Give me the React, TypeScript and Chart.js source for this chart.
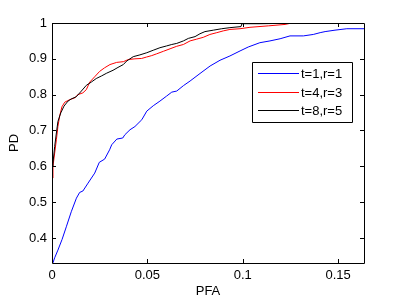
import React, { useEffect, useRef } from "react";
import { Chart, registerables } from "chart.js";

Chart.register(...registerables);

// ---- Data ----
const seriesLabels = ["t=1,r=1", "t=4,r=3", "t=8,r=5"];
const seriesColors = ["#0000ff", "#ff0000", "#000000"];

const blueX = [0, 0.0005, 0.0014, 0.0031, 0.0053, 0.0075, 0.0101, 0.0128, 0.0145, 0.0162, 0.0189, 0.0224, 0.0248, 0.0276, 0.0302, 0.0313, 0.034, 0.0371, 0.0382, 0.0409, 0.0435, 0.0471, 0.0497, 0.0531, 0.0566, 0.0601, 0.0628, 0.0654, 0.0689, 0.0724, 0.0776, 0.0829, 0.0881, 0.0933, 0.0986, 0.1029, 0.109, 0.1143, 0.1196, 0.1248, 0.1318, 0.137, 0.1406, 0.1432, 0.1484, 0.1546, 0.1636];
const blueY = [0.33, 0.3305, 0.3445, 0.366, 0.396, 0.431, 0.473, 0.511, 0.527, 0.531, 0.553, 0.581, 0.611, 0.62, 0.646, 0.66, 0.676, 0.679, 0.688, 0.702, 0.711, 0.73, 0.754, 0.769, 0.782, 0.796, 0.807, 0.81, 0.825, 0.838, 0.859, 0.88, 0.896, 0.908, 0.922, 0.933, 0.945, 0.95, 0.956, 0.964, 0.964, 0.968, 0.973, 0.976, 0.98, 0.984, 0.984];

const redX = [0, 0.0005, 0.0014, 0.0023, 0.0031, 0.004, 0.0052, 0.0067, 0.0093, 0.0119, 0.0136, 0.0162, 0.018, 0.0198, 0.0224, 0.025, 0.0276, 0.0304, 0.0339, 0.0374, 0.04, 0.0435, 0.047, 0.0496, 0.0523, 0.0549, 0.0584, 0.0619, 0.0654, 0.0689, 0.0724, 0.0759, 0.0793, 0.0828, 0.0864, 0.0898, 0.0933, 0.0986, 0.1038, 0.1134, 0.1222, 0.1257];
const redY = [0.567, 0.6, 0.637, 0.674, 0.711, 0.74, 0.766, 0.779, 0.786, 0.791, 0.8, 0.805, 0.814, 0.835, 0.85, 0.865, 0.875, 0.884, 0.89, 0.892, 0.898, 0.9, 0.901, 0.905, 0.909, 0.914, 0.921, 0.928, 0.935, 0.94, 0.95, 0.955, 0.96, 0.968, 0.973, 0.978, 0.982, 0.984, 0.988, 0.992, 0.996, 1.0];

const blackX = [0, 0.0005, 0.0014, 0.0023, 0.0031, 0.0046, 0.0063, 0.0084, 0.0101, 0.0127, 0.0154, 0.018, 0.0206, 0.0232, 0.0259, 0.0287, 0.032, 0.0346, 0.0374, 0.0392, 0.0426, 0.0461, 0.0497, 0.0531, 0.0566, 0.0601, 0.0628, 0.0654, 0.0689, 0.0715, 0.075, 0.0776, 0.0802, 0.0846, 0.089, 0.0933, 0.0991, 0.0996, 0.109, 0.1222, 0.1248];
const blackY = [0.6, 0.609, 0.655, 0.693, 0.725, 0.749, 0.768, 0.782, 0.788, 0.794, 0.81, 0.826, 0.835, 0.845, 0.852, 0.86, 0.868, 0.876, 0.884, 0.894, 0.906, 0.911, 0.917, 0.924, 0.931, 0.936, 0.94, 0.943, 0.95, 0.957, 0.962, 0.97, 0.976, 0.98, 0.984, 0.987, 0.99, 0.998, 0.998, 0.999, 1.0];

const xTicks = [0, 0.05, 0.1, 0.15];
const yTicks = [0.4, 0.5, 0.6, 0.7, 0.8, 0.9, 1];
const xMin = 0;
const xMax = 0.1636;
const yMin = 0.33;
const yMax = 1;
const xTitle = "PFA";
const yTitle = "PD";

const FONT = { family: "'Liberation Sans', Arial, sans-serif", size: 13 };
const fmt = (v: number) => String(+Number(v).toFixed(3));

const matlabPlugin = {
  id: "matlabBox",
  afterDatasetsDraw(chart: any) {
    const { ctx, chartArea: a, scales } = chart;
    ctx.save();
    ctx.strokeStyle = "#000";
    ctx.lineWidth = 1;
    ctx.beginPath();
    ctx.rect(a.left + 0.5, a.top + 0.5, a.right - a.left, a.bottom - a.top);
    const tl = 4;
    xTicks.forEach((v) => {
      const px = Math.round(scales.x.getPixelForValue(v)) + 0.5;
      ctx.moveTo(px, a.bottom);
      ctx.lineTo(px, a.bottom - tl);
      ctx.moveTo(px, a.top);
      ctx.lineTo(px, a.top + tl);
    });
    yTicks.forEach((v) => {
      const py = Math.round(scales.y.getPixelForValue(v)) + 0.5;
      ctx.moveTo(a.left, py);
      ctx.lineTo(a.left + tl, py);
      ctx.moveTo(a.right, py);
      ctx.lineTo(a.right - tl, py);
    });
    ctx.stroke();

    // legend
    const bx = a.right - 112;
    const by = a.top + 39;
    const bw = 100;
    const bh = 60;
    ctx.fillStyle = "#fff";
    ctx.fillRect(bx, by, bw, bh);
    ctx.beginPath();
    ctx.strokeStyle = "#000";
    ctx.rect(bx + 0.5, by + 0.5, bw, bh);
    ctx.stroke();
    ctx.font = `${FONT.size}px ${FONT.family}`;
    ctx.textBaseline = "middle";
    ctx.textAlign = "left";
    seriesLabels.forEach((lab, i) => {
      const y = Math.round(by + 11 + i * 18.5);
      ctx.fillStyle = seriesColors[i];
      ctx.fillRect(bx + 6, y, 41, 1);
      ctx.fillStyle = "#000";
      ctx.fillText(lab, bx + 49, y + 1);
    });
    ctx.restore();
  },
};

export default function App() {
  const ref = useRef<HTMLCanvasElement | null>(null);
  useEffect(() => {
    if (!ref.current) return;
    const series = [
      [blueX, blueY],
      [redX, redY],
      [blackX, blackY],
    ];
    const chart = new Chart(ref.current, {
      type: "scatter",
      data: {
        datasets: series.map(([xs, ys], i) => ({
          label: seriesLabels[i],
          data: xs.map((x, j) => ({ x, y: ys[j] })),
          borderColor: seriesColors[i],
          backgroundColor: seriesColors[i],
          showLine: true,
          borderWidth: 1,
          pointRadius: 0,
          tension: 0,
          order: 3 - i,
        })),
      },
      options: {
        animation: false,
        responsive: false,
        layout: { padding: { top: 23, right: 38, left: 0, bottom: 0 } },
        plugins: { legend: { display: false }, tooltip: { enabled: false } },
        scales: {
          x: {
            type: "linear",
            min: xMin,
            max: xMax,
            grid: { display: false, drawTicks: false },
            border: { display: false },
            afterBuildTicks: (s: any) => {
              s.ticks = xTicks.map((v) => ({ value: v }));
            },
            afterFit: (s: any) => {
              s.height = 38;
            },
            ticks: { padding: 5, color: "#000", font: FONT, autoSkip: false, maxRotation: 0, callback: (v: any) => fmt(v) },
            title: { display: true, text: xTitle, color: "#000", font: FONT, padding: { top: 0, bottom: 1.5 } },
          },
          y: {
            type: "linear",
            min: yMin,
            max: yMax,
            grid: { display: false, drawTicks: false },
            border: { display: false },
            afterBuildTicks: (s: any) => {
              s.ticks = yTicks.map((v) => ({ value: v }));
            },
            afterFit: (s: any) => {
              s.width = 52;
            },
            ticks: { padding: 5, color: "#000", font: FONT, autoSkip: false, callback: (v: any) => fmt(v) },
            title: { display: true, text: yTitle, color: "#000", font: FONT, padding: { top: 7, bottom: 0 } },
          },
        },
      },
      plugins: [matlabPlugin],
    } as any);
    return () => chart.destroy();
  }, []);
  return (
    <div style={{ position: "absolute", left: 0, top: 0, width: 402, height: 301, background: "#fff" }}>
      <canvas ref={ref} width={402} height={301} />
    </div>
  );
}
